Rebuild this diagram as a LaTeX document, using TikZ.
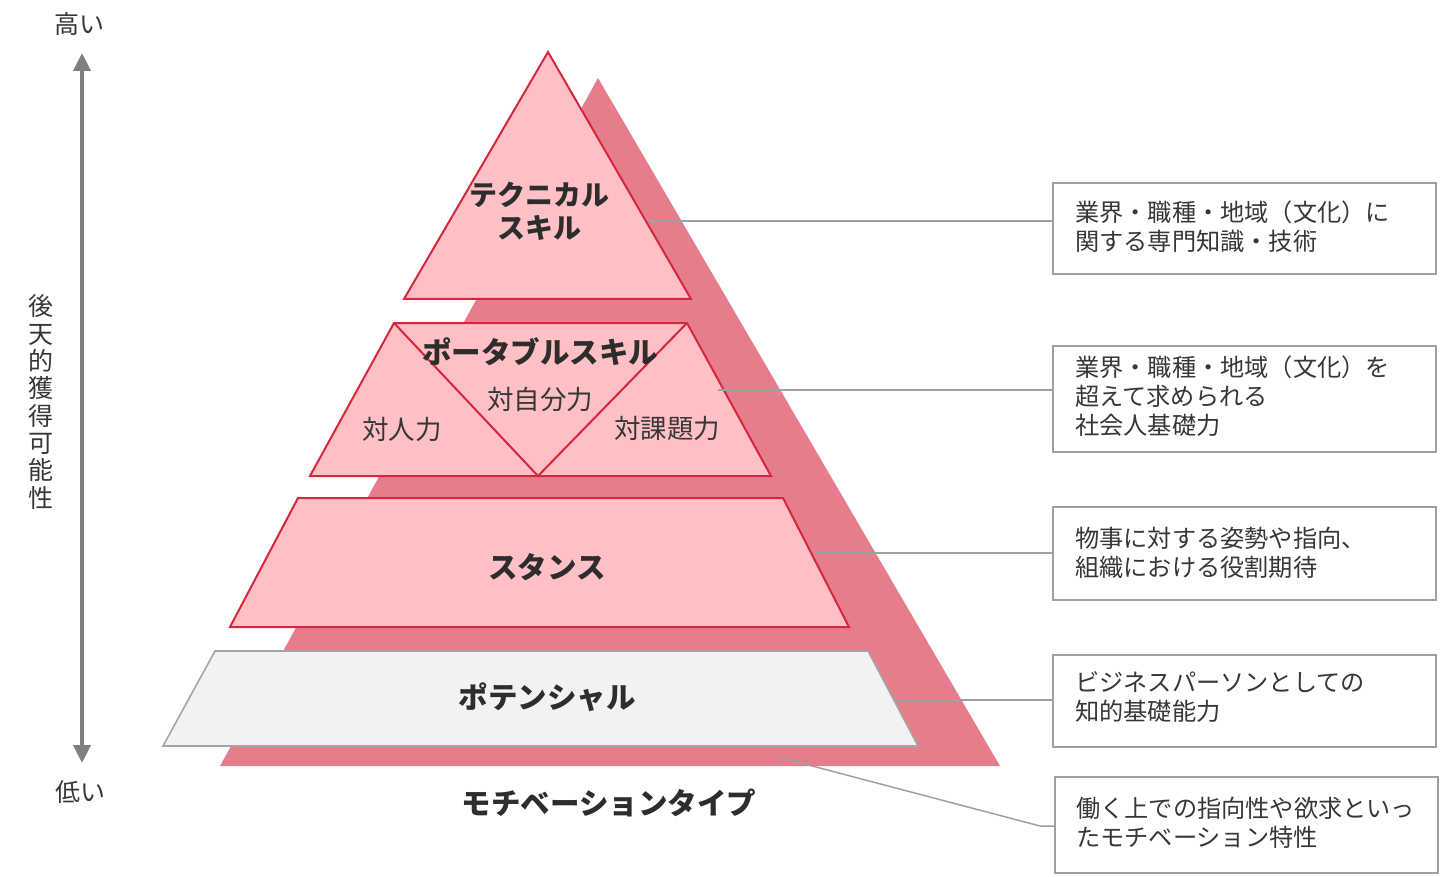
\documentclass[tikz,border=0pt]{standalone}
\usepackage{fontspec}
\setmainfont{Noto Sans CJK JP}
\usetikzlibrary{arrows.meta}
\definecolor{darkpink}{RGB}{229,125,140}
\definecolor{lightpink}{RGB}{255,192,197}
\definecolor{redline}{RGB}{215,38,61}
\definecolor{potfill}{RGB}{242,242,242}
\definecolor{potline}{RGB}{165,165,165}
\definecolor{conn}{RGB}{160,160,160}
\definecolor{txt}{RGB}{55,55,55}
\definecolor{ttl}{RGB}{45,45,45}
\definecolor{axis}{RGB}{128,128,128}
\tikzset{
  layer/.style={fill=lightpink, draw=redline, line width=2pt, line join=miter},
  potlayer/.style={fill=potfill, draw=potline, line width=1.6pt},
  title/.style={font=\fontsize{29.5}{33}\selectfont\bfseries, text=ttl, align=center, inner sep=0pt},
  sub/.style={font=\fontsize{26.5}{30}\selectfont, text=txt, inner sep=0pt},
  descbox/.style={draw=conn, line width=1.5pt, fill=white, minimum width=383pt, inner sep=0pt},
  desctext/.style={font=\fontsize{24.2}{29}\selectfont, text=txt, align=left, anchor=west, inner sep=0pt},
  connector/.style={draw=conn, line width=1.5pt},
  axislabel/.style={font=\fontsize{25}{27.3}\selectfont, text=txt, align=center, inner sep=0pt},
}
\begin{document}
\begin{tikzpicture}[x=1pt,y=-1pt]
\useasboundingbox (0,0) rectangle (1440,877);
% background big triangle
\fill[darkpink] (598,78) -- (1000,766) -- (220,766) -- cycle;
% technical
\draw[layer] (548,52) -- (691,299) -- (404,299) -- cycle;
\node[title, font=\fontsize{28}{33}\selectfont\bfseries] (tech) at (539,211) {テクニカル\\スキル};
% portable
\draw[layer] (394,323) -- (687,323) -- (771,476) -- (310,476) -- cycle;
\draw[redline, line width=2pt] (394,323) -- (538,476) -- (687,323);
\node[title] (port) at (540,352) {ポータブルスキル};
\node[sub] (jiko) at (540,399) {対自分力};
\node[sub] (taijin) at (402,429) {対人力};
\node[sub] (kadai) at (667,428) {対課題力};
% stance
\draw[layer] (298,498) -- (783,498) -- (849,627) -- (230,627) -- cycle;
\node[title] (stance) at (547,567) {スタンス};
% potential
\draw[potlayer] (215,651) -- (868,651) -- (918,746) -- (163,746) -- cycle;
\node[title] (pot) at (547,697) {ポテンシャル};
\node[title] (moti) at (609,803) {モチベーションタイプ};
% boxes
\node[descbox, minimum height=91pt] (b1) at (1244.5,228.5) {};
\node[desctext] (t1) at (1075,227) {業界・職種・地域（文化）に\\関する専門知識・技術};
\node[descbox, minimum height=106pt] (b2) at (1244.5,399) {};
\node[desctext] (t2) at (1075,396) {業界・職種・地域（文化）を\\超えて求められる\\社会人基礎力};
\node[descbox, minimum height=93pt] (b3) at (1244.5,553.5) {};
\node[desctext] (t3) at (1075,552.5) {物事に対する姿勢や指向、\\組織における役割期待};
\node[descbox, minimum height=92pt] (b4) at (1244.5,701) {};
\node[desctext] (t4) at (1075,697.5) {ビジネスパーソンとしての\\知的基礎能力};
\node[descbox, minimum height=96pt] (b5) at (1246.5,825) {};
\node[desctext] (t5) at (1076,822.5) {働く上での指向性や欲求といっ\\たモチベーション特性};
% connectors
\coordinate (c1) at (648,221);
\coordinate (c2) at (718,390);
\coordinate (c3) at (815,553);
\coordinate (c4) at (894,700);
\coordinate (c5) at (778,757);
\coordinate (k5) at (1040,826);
\draw[connector] (c1) -- (b1.west |- c1);
\draw[connector] (c2) -- (b2.west |- c2);
\draw[connector] (c3) -- (b3.west |- c3);
\draw[connector] (c4) -- (b4.west |- c4);
\draw[connector] (c5) -- (k5) -- (b5.west |- k5);
% axis
\node[axislabel] (high) at (79,24) {高い};
\node[axislabel] (low) at (80,792) {低い};
\coordinate (atop) at (82,53);
\coordinate (abot) at (82,763);
\draw[axis, line width=4pt, {Triangle[length=18pt,width=17pt]}-{Triangle[length=18pt,width=17pt]}] (atop) -- (abot);
\node[axislabel] (vert) at (41,402) {後\\天\\的\\獲\\得\\可\\能\\性};
\end{tikzpicture}
\end{document}
